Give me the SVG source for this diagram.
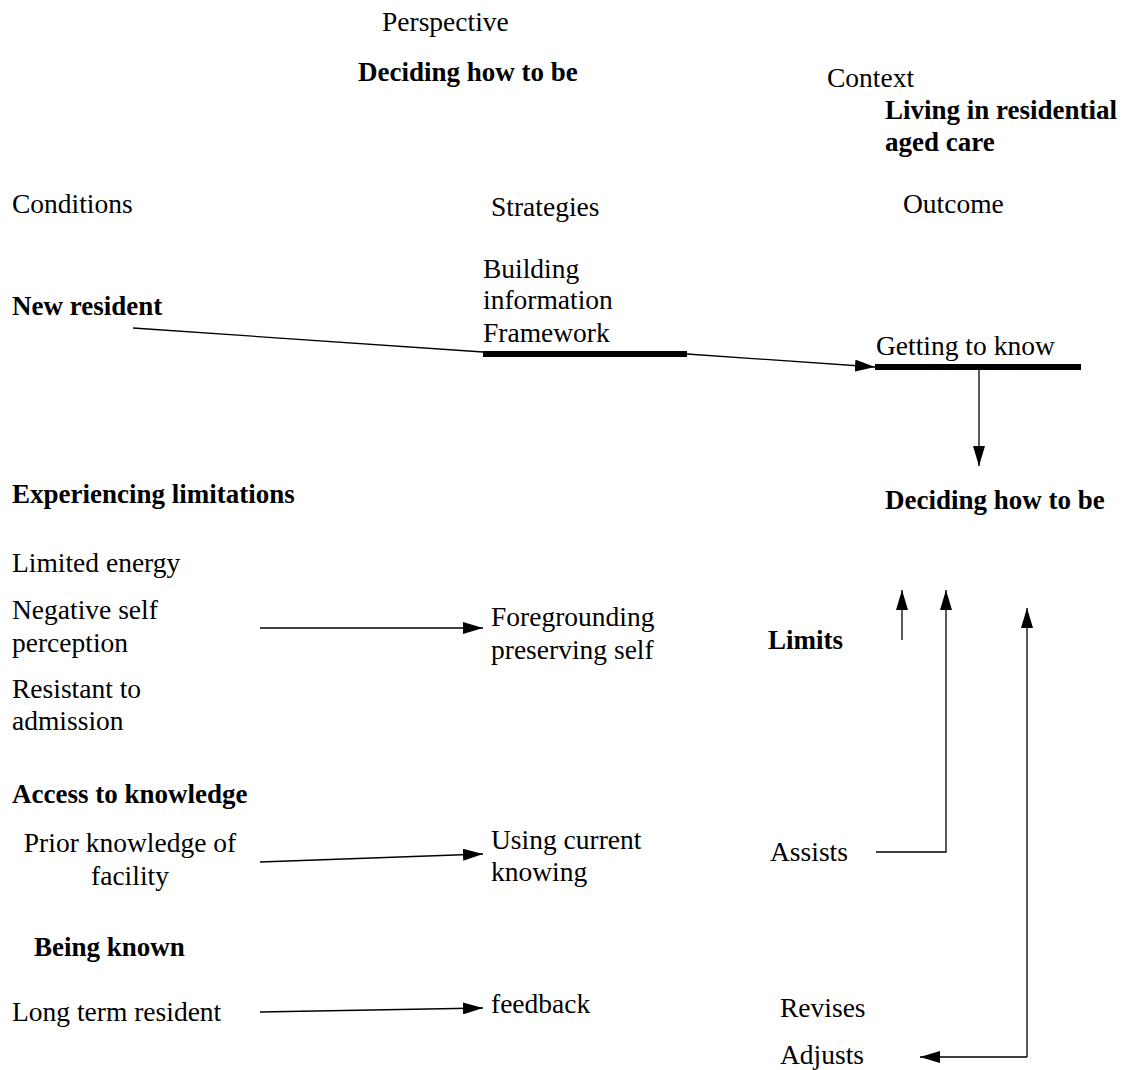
<svg xmlns="http://www.w3.org/2000/svg" width="1132" height="1070" viewBox="0 0 1132 1070">
  <style>
    text { font-family: "Liberation Serif", "Times New Roman", serif; font-size: 27.5px; fill: #000; }
    .b { font-weight: bold; font-size: 27px; }
    .ln { stroke: #000; stroke-width: 1.3; fill: none; }
    .bar { stroke: #000; stroke-width: 6; fill: none; }
  </style>
  <defs>
    <marker id="ah" viewBox="0 0 20 12" refX="20" refY="6" markerWidth="20" markerHeight="12" markerUnits="userSpaceOnUse" orient="auto">
      <path d="M0,0 L20,6 L0,12 Z" fill="#000"/>
    </marker>
  </defs>

  <rect width="1132" height="1070" fill="#fff"/>

  <!-- headings -->
  <g id="headings">
    <text x="382" y="31">Perspective</text>
    <text class="b" x="358" y="81">Deciding how to be</text>
    <text x="827" y="87">Context</text>
    <text class="b" x="885" y="119">Living in residential</text>
    <text class="b" x="885" y="151">aged care</text>
    <text x="12" y="213">Conditions</text>
    <text x="491" y="216">Strategies</text>
    <text x="903" y="213">Outcome</text>
  </g>

  <!-- conditions -->
  <g id="new-resident"><text class="b" x="12" y="315">New resident</text></g>
  <g id="experiencing-limitations"><text class="b" x="12" y="503">Experiencing limitations</text></g>
  <g id="limited-energy"><text x="12" y="572">Limited energy</text></g>
  <g id="negative-self-perception">
    <text x="12" y="619">Negative self</text>
    <text x="12" y="652">perception</text>
  </g>
  <g id="resistant-to-admission">
    <text x="12" y="698">Resistant to</text>
    <text x="12" y="730">admission</text>
  </g>
  <g id="access-to-knowledge"><text class="b" x="12" y="803">Access to knowledge</text></g>
  <g id="prior-knowledge">
    <text x="130" y="852" text-anchor="middle">Prior knowledge of</text>
    <text x="130" y="885" text-anchor="middle">facility</text>
  </g>
  <g id="being-known"><text class="b" x="34" y="956">Being known</text></g>
  <g id="long-term-resident"><text x="12" y="1021">Long term resident</text></g>

  <!-- strategies -->
  <g id="building-information-framework">
    <text x="483" y="278">Building</text>
    <text x="483" y="309">information</text>
    <text x="483" y="342">Framework</text>
    <line class="bar" x1="483" y1="354" x2="687" y2="354"/>
  </g>
  <g id="foregrounding">
    <text x="491" y="626">Foregrounding</text>
    <text x="491" y="659">preserving self</text>
  </g>
  <g id="using-current-knowing">
    <text x="491" y="849">Using current</text>
    <text x="491" y="881">knowing</text>
  </g>
  <g id="feedback"><text x="491" y="1013">feedback</text></g>

  <!-- outcomes -->
  <g id="getting-to-know">
    <text x="876" y="355">Getting to know</text>
    <line class="bar" x1="875" y1="367" x2="1081" y2="367"/>
  </g>
  <g id="deciding-how-to-be"><text class="b" x="885" y="509">Deciding how to be</text></g>
  <g id="limits"><text class="b" x="768" y="649">Limits</text></g>
  <g id="assists"><text x="770" y="861">Assists</text></g>
  <g id="revises"><text x="780" y="1017">Revises</text></g>
  <g id="adjusts"><text x="780" y="1064">Adjusts</text></g>

  <!-- connectors -->
  <g id="connectors">
    <line class="ln" x1="133" y1="328" x2="483" y2="352"/>
    <line class="ln" x1="687" y1="354" x2="875" y2="367" marker-end="url(#ah)"/>
    <line class="ln" x1="979" y1="370" x2="979" y2="466" marker-end="url(#ah)"/>
    <line class="ln" x1="260" y1="628" x2="483" y2="628" marker-end="url(#ah)"/>
    <line class="ln" x1="260" y1="862" x2="483" y2="854" marker-end="url(#ah)"/>
    <line class="ln" x1="260" y1="1012" x2="483" y2="1008" marker-end="url(#ah)"/>
    <line class="ln" x1="902" y1="640" x2="902" y2="590" marker-end="url(#ah)"/>
    <polyline class="ln" points="876,852 946,852 946,590" marker-end="url(#ah)"/>
    <polyline class="ln" points="1027,1057 1027,608" marker-end="url(#ah)"/>
    <line class="ln" x1="1027" y1="1057" x2="920" y2="1057" marker-end="url(#ah)"/>
  </g>
</svg>
